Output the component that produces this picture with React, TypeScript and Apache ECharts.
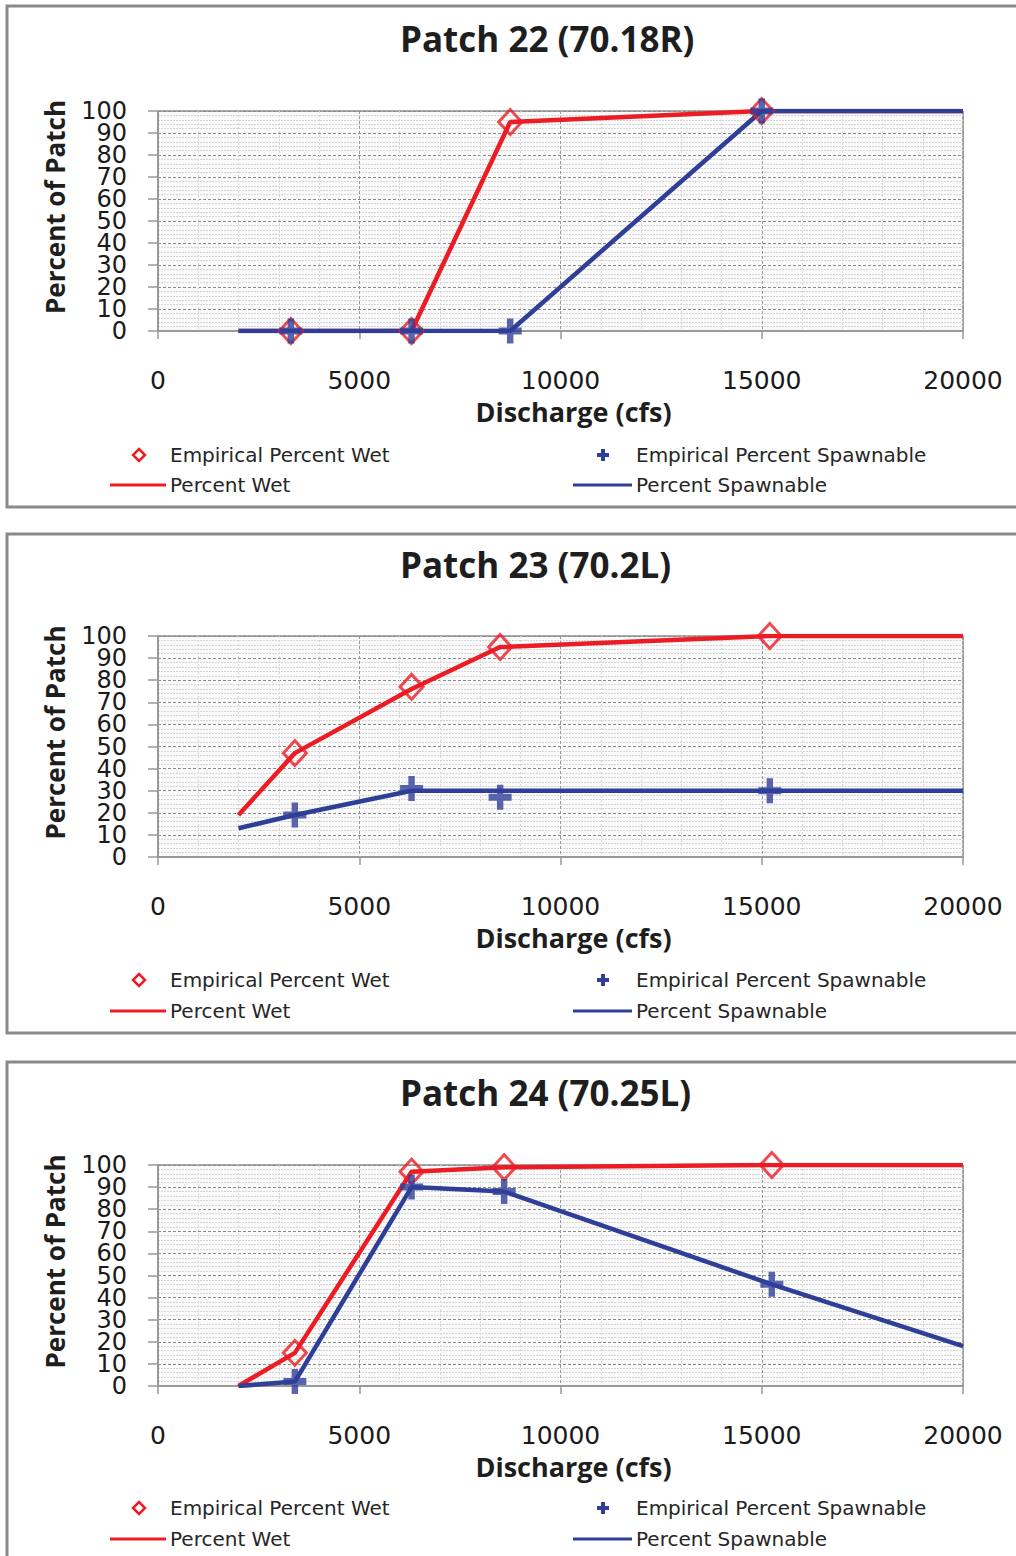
import React, { useEffect, useRef } from "react";
import * as echarts from "echarts";

// ---------- data ----------
const panelTitles = ["Patch 22 (70.18R)", "Patch 23 (70.2L)", "Patch 24 (70.25L)"];
const xAxisName = "Discharge (cfs)";
const yAxisName = "Percent of Patch";
const legendNames = ["Empirical Percent Wet", "Percent Wet", "Empirical Percent Spawnable", "Percent Spawnable"];

const xMin = 0;
const xMax = 20000;
const xStep = 5000;
const yMin = 0;
const yMax = 100;
const yStep = 10;
const yTickLabels = ["0", "10", "20", "30", "40", "50", "60", "70", "80", "90", "100"];

// Patch 22
const wetLine22 = [[2000, 0], [3300, 0], [6300, 0], [8750, 95], [15000, 100], [20000, 100]];
const wetEmp22 = [[3300, 0], [6300, 0], [8750, 95], [15000, 100]];
const spawnLine22 = [[2000, 0], [3300, 0], [6300, 0], [8750, 0], [15000, 100], [20000, 100]];
const spawnEmp22 = [[3300, 0], [6300, 0], [8750, 0], [15000, 100]];

// Patch 23
const wetLine23 = [[2000, 19], [3400, 47], [6300, 76], [8500, 95], [15200, 100], [20000, 100]];
const wetEmp23 = [[3400, 47], [6300, 77], [8500, 95], [15200, 100]];
const spawnLine23 = [[2000, 13], [3400, 19], [6300, 30], [8500, 30], [15200, 30], [20000, 30]];
const spawnEmp23 = [[3400, 19], [6300, 31], [8500, 27], [15200, 30]];

// Patch 24
const wetLine24 = [[2000, 0], [3400, 15], [6300, 97], [8600, 99], [15250, 100], [20000, 100]];
const wetEmp24 = [[3400, 15], [6300, 97], [8600, 99], [15250, 100]];
const spawnLine24 = [[2000, 0], [3400, 2], [6300, 90], [8600, 88], [15250, 46], [20000, 18]];
const spawnEmp24 = [[3400, 2], [6300, 90], [8600, 88], [15250, 46]];

const panels = [
  { wetLine: wetLine22, wetEmp: wetEmp22, spawnLine: spawnLine22, spawnEmp: spawnEmp22 },
  { wetLine: wetLine23, wetEmp: wetEmp23, spawnLine: spawnLine23, spawnEmp: spawnEmp23 },
  { wetLine: wetLine24, wetEmp: wetEmp24, spawnLine: spawnLine24, spawnEmp: spawnEmp24 },
];

// ---------- layout ----------
const RED = "#ed1c24";
const BLUE = "#2f3f98";
const panelTop = [6, 534, 1062];
const panelBottom = [507, 1033, 1590];
const gridTop = [111, 636, 1165];
const gridHeight = [220, 221, 221];
const titleY = [41, 567, 1095];
const legendRow1 = [455, 980, 1508];
const legendRow2 = [485, 1011, 1539];
const GRID_LEFT = 158;
const GRID_WIDTH = 805;

const PLUS = "path://M3.6,0 H6.4 V3.6 H10 V6.4 H6.4 V10 H3.6 V6.4 H0 V3.6 H3.6 Z";

export default function App() {
  const ref = useRef<HTMLDivElement>(null);
  useEffect(() => {
    if (!ref.current) return;
    const chart = echarts.init(ref.current, null, { renderer: "svg" });

    const grids: any[] = [];
    const xAxes: any[] = [];
    const yAxes: any[] = [];
    const labelAxes: any[] = [];
    const series: any[] = [];
    const titles: any[] = [];
    const graphics: any[] = [];

    panels.forEach((p, i) => {
      graphics.push({
        type: "rect",
        shape: { x: 7, y: panelTop[i], width: 1040, height: panelBottom[i] - panelTop[i] },
        style: { fill: "none", stroke: "#8a8a8a", lineWidth: 3 },
        z: -10,
      });
      grids.push({
        left: GRID_LEFT,
        top: gridTop[i],
        width: GRID_WIDTH,
        height: gridHeight[i],
        show: true,
        backgroundColor: "#fafafa",
        borderColor: "#555",
        borderWidth: 1,
      });
      titles.push({
        text: panelTitles[i],
        left: 400,
        top: titleY[i] - 20,
        padding: 0,
        textStyle: { fontFamily: "Open Sans", fontWeight: "bold", fontSize: 35, color: "#1e1e1e" },
      });
      xAxes.push({
        gridIndex: i,
        type: "value",
        min: xMin,
        max: xMax,
        interval: xStep,
        name: xAxisName,
        nameLocation: "middle",
        nameGap: 67,
        nameTextStyle: {
          fontFamily: "Open Sans", fontWeight: "bold", fontSize: 27, color: "#1e1e1e",
          padding: [0, 0, 0, 26],
        },
        axisLine: { lineStyle: { color: "#999", width: 2 } },
        axisTick: { show: true, length: 8, lineStyle: { color: "#999", width: 1.5 } },
        axisLabel: {
          margin: 37, fontFamily: "DejaVu Sans", fontSize: 25, color: "#1a1a1a",
          showMinLabel: true, showMaxLabel: true, formatter: (v: number) => String(v),
        },
        splitLine: { show: true, lineStyle: { color: "#9a9a9a", width: 1, type: [3, 2] } },
        minorTick: { show: false, splitNumber: 5 },
        minorSplitLine: { show: true, lineStyle: { color: "#d8d8d8", width: 1, type: [2, 2] } },
      });
      yAxes.push({
        gridIndex: i,
        type: "value",
        min: yMin,
        max: yMax,
        interval: yStep,
        name: yAxisName,
        nameLocation: "middle",
        nameGap: 90,
        nameRotate: 90,
        nameTextStyle: { fontFamily: "Open Sans", fontWeight: "bold", fontSize: 26, color: "#1e1e1e", padding: [0, 0, 0, 28] },
        axisLine: { show: true, lineStyle: { color: "#999", width: 2 } },
        axisTick: { show: true, length: 10, lineStyle: { color: "#999", width: 1.5 } },
        axisLabel: { show: false },
        splitLine: { show: true, lineStyle: { color: "#8a8a8a", width: 1, type: [3, 2] } },
        minorTick: { show: false, splitNumber: 5 },
        minorSplitLine: { show: true, lineStyle: { color: "#d5d5d5", width: 1, type: [2, 1] } },
      });
      // tick-label axis: every label of the value axis, all shown even when they touch
      labelAxes.push({
        gridIndex: i,
        type: "category",
        position: "left",
        data: yTickLabels,
        boundaryGap: false,
        axisLine: { show: false },
        axisTick: { show: false },
        splitLine: { show: false },
        axisLabel: {
          interval: 0, margin: 31, fontFamily: "DejaVu Sans", fontSize: 24, color: "#1a1a1a",
        },
      });
      series.push(
        {
          name: legendNames[1], type: "line", xAxisIndex: i, yAxisIndex: i, data: p.wetLine,
          showSymbol: false, symbol: "none", lineStyle: { color: RED, width: 4.5 }, z: 2,
        },
        {
          name: legendNames[3], type: "line", xAxisIndex: i, yAxisIndex: i, data: p.spawnLine,
          showSymbol: false, symbol: "none", lineStyle: { color: BLUE, width: 4.5 }, z: 3,
        },
        {
          name: legendNames[0], type: "scatter", xAxisIndex: i, yAxisIndex: i, data: p.wetEmp,
          symbol: "diamond", symbolSize: [23, 25],
          itemStyle: { color: "rgba(0,0,0,0)", borderColor: RED, borderWidth: 3 }, z: 4,
        },
        {
          name: legendNames[2], type: "scatter", xAxisIndex: i, yAxisIndex: i, data: p.spawnEmp,
          symbol: PLUS, symbolSize: [23, 25], itemStyle: { color: BLUE }, z: 5,
        }
      );

      // legend (drawn as graphic)
      const r1 = legendRow1[i];
      const r2 = legendRow2[i];
      const textStyle = { fontFamily: "DejaVu Sans", fontSize: 20, fill: "#262626", textVerticalAlign: "middle" };
      graphics.push(
        {
          type: "polygon",
          shape: { points: [[139, r1 - 6], [145, r1], [139, r1 + 6], [133, r1]] },
          style: { fill: "none", stroke: RED, lineWidth: 2.5 },
        },
        { type: "text", x: 170, y: r1, style: { ...textStyle, text: legendNames[0] } },
        { type: "line", shape: { x1: 110, y1: r2, x2: 166, y2: r2 }, style: { stroke: RED, lineWidth: 3 } },
        { type: "text", x: 170, y: r2, style: { ...textStyle, text: legendNames[1] } },
        {
          type: "polygon",
          shape: {
            points: [
              [601, r1 - 6], [605, r1 - 6], [605, r1 - 2], [609, r1 - 2], [609, r1 + 2], [605, r1 + 2],
              [605, r1 + 6], [601, r1 + 6], [601, r1 + 2], [597, r1 + 2], [597, r1 - 2], [601, r1 - 2],
            ],
          },
          style: { fill: BLUE },
        },
        { type: "text", x: 636, y: r1, style: { ...textStyle, text: legendNames[2] } },
        { type: "line", shape: { x1: 573, y1: r2, x2: 632, y2: r2 }, style: { stroke: BLUE, lineWidth: 3 } },
        { type: "text", x: 636, y: r2, style: { ...textStyle, text: legendNames[3] } }
      );
    });

    chart.setOption({
      animation: false,
      backgroundColor: "#ffffff",
      title: titles,
      grid: grids,
      xAxis: xAxes,
      yAxis: [...yAxes, ...labelAxes],
      series,
      graphic: graphics,
    });
    return () => chart.dispose();
  }, []);
  return (
    <div
      ref={ref}
      style={{ position: "absolute", left: 0, top: 0, width: 1016, height: 1556 }}
    />
  );
}
